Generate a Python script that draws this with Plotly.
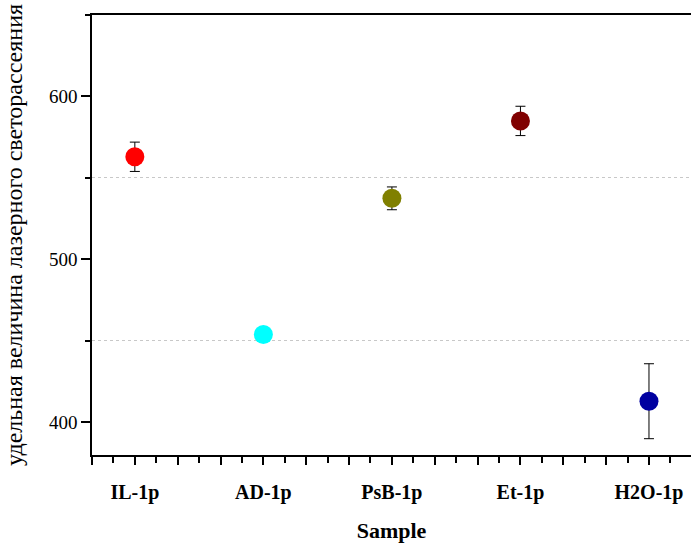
import plotly.graph_objects as go

# Sample categories and measured values with their error margins
samples = ["IL-1p", "AD-1p", "PsB-1p", "Et-1p", "H2O-1p"]
values = [563, 454, 537.5, 585, 413]
errors = [9, 2, 7, 9, 23]
colors = ["#FF0000", "#00FFFF", "#808000", "#800000", "#0000A0"]

positions = list(range(len(samples)))

fig = go.Figure()
for pos, name, val, err, col in zip(positions, samples, values, errors, colors):
    fig.add_trace(go.Scatter(
        x=[pos], y=[val], mode="markers", name=name,
        marker=dict(size=19, color=col, line=dict(width=0)),
        error_y=dict(type="data", array=[err], visible=True,
                     color="black", thickness=1, width=5),
        showlegend=False,
    ))

# major x ticks every third of a category step, labels only on the categories
step = 1 / 3
major_vals = [-step + i * step for i in range(15)]
major_text = []
for v in major_vals:
    r = round(v)
    if abs(v - r) < 1e-6 and 0 <= r < len(samples):
        major_text.append(samples[r])
    else:
        major_text.append("")

font_family = "Liberation Serif"

fig.update_layout(
    width=691, height=547,
    margin=dict(l=92, r=0, t=15, b=92),
    paper_bgcolor="white", plot_bgcolor="white",
    font=dict(family=font_family, color="black"),
    xaxis=dict(
        range=[-step, 4.327],
        tickmode="array", tickvals=major_vals, ticktext=major_text,
        ticks="outside", ticklen=8, tickwidth=1.5, tickcolor="black",
        ticklabelstandoff=10,
        tickfont=dict(size=20, family=font_family, weight="bold"),
        showline=True, linecolor="black", linewidth=1.5, mirror=True,
        showgrid=False, zeroline=False,
        minor=dict(tickmode="linear", tick0=-step, dtick=step / 2,
                   ticks="outside", ticklen=6, tickwidth=1.5, tickcolor="black",
                   showgrid=False),
        title=dict(text="Sample", font=dict(size=22, family=font_family, weight="bold"),
                   standoff=20),
    ),
    yaxis=dict(
        range=[380, 650],
        tickmode="linear", tick0=400, dtick=100,
        ticks="outside", ticklen=9, tickwidth=1.5, tickcolor="black",
        tickfont=dict(size=19, family=font_family),
        showline=True, linecolor="black", linewidth=1.5, mirror=False,
        showgrid=False, zeroline=False,
        minor=dict(tickmode="linear", tick0=400, dtick=50,
                   ticks="outside", ticklen=5, tickwidth=1.5, tickcolor="black",
                   showgrid=True, gridcolor="#C8C8C8", griddash="dot", gridwidth=1),
        title=dict(text="удельная величина лазерного светорассеяния",
                   font=dict(size=24, family=font_family), standoff=20),
    ),
)

fig.write_html("out.html")
